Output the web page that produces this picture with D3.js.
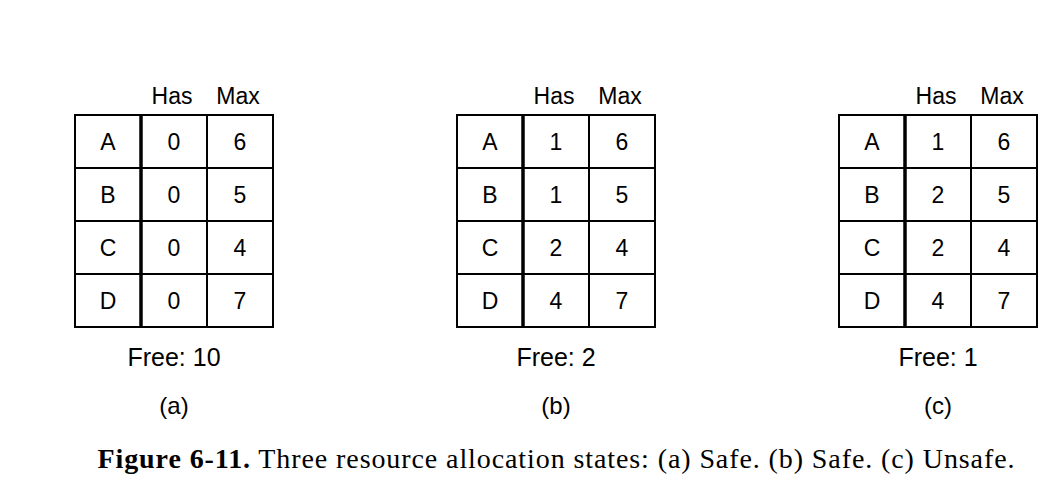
<!DOCTYPE html>
<html><head><meta charset="utf-8">
<script src="https://cdn.jsdelivr.net/npm/d3@7"></script>
<style>body{margin:0;background:#fff}</style>
</head><body><div id="chart"></div>
<script>
var processes = ["A", "B", "C", "D"];
var columns = ["Has", "Max"];
var has = [[0, 0, 0, 0], [1, 1, 2, 4], [1, 2, 2, 4]];
var max = [6, 5, 4, 7];
var free = [10, 2, 1];
var labels = ["(a)", "(b)", "(c)"];

var width = 1062, height = 490;
var svg = d3.select("#chart").append("svg")
    .attr("width", width).attr("height", height);

var cellW = 66, tableTop = 115, tableBottom = 327;
var y = d3.scaleBand().domain(processes).range([tableTop, tableBottom]);
var font = "Liberation Sans, Arial, sans-serif";

labels.forEach(function(lab, i) {
  var x0 = 75 + i * 382;
  var g = svg.append("g").attr("transform", "translate(" + x0 + ",0)");
  var x = d3.scaleBand().domain(["name"].concat(columns)).range([0, cellW * 3]);

  columns.forEach(function(c) {
    g.append("text").attr("x", x(c) + x.bandwidth() / 2 - 2).attr("y", 104)
      .attr("text-anchor", "middle").attr("font-family", font).attr("font-size", 23).text(c);
  });

  processes.forEach(function(p, j) {
    var row = [p, has[i][j], max[j]];
    x.domain().forEach(function(col, k) {
      g.append("text").attr("x", x(col) + x.bandwidth() / 2).attr("y", y(p) + y.bandwidth() / 2 + 8)
        .attr("text-anchor", "middle").attr("font-family", font).attr("font-size", 23).text(row[k]);
    });
  });

  // grid
  g.append("rect").attr("x", 0).attr("y", tableTop).attr("width", cellW * 3).attr("height", tableBottom - tableTop)
    .attr("fill", "none").attr("stroke", "#000").attr("stroke-width", 2);
  processes.slice(1).forEach(function(p) {
    g.append("line").attr("x1", 0).attr("x2", cellW * 3).attr("y1", y(p)).attr("y2", y(p))
      .attr("stroke", "#000").attr("stroke-width", 2);
  });
  g.append("line").attr("x1", x("Has")).attr("x2", x("Has")).attr("y1", tableTop).attr("y2", tableBottom)
    .attr("stroke", "#000").attr("stroke-width", 3.5);
  g.append("line").attr("x1", x("Max")).attr("x2", x("Max")).attr("y1", tableTop).attr("y2", tableBottom)
    .attr("stroke", "#000").attr("stroke-width", 2);

  g.append("text").attr("x", 99).attr("y", 366).attr("text-anchor", "middle")
    .attr("font-family", font).attr("font-size", 25).text("Free: " + free[i]);
  g.append("text").attr("x", 99).attr("y", 414).attr("text-anchor", "middle")
    .attr("font-family", font).attr("font-size", 24).text(lab);
});

var cap = svg.append("text").attr("x", 556).attr("y", 468).attr("text-anchor", "middle")
  .attr("font-family", "Liberation Serif, Times New Roman, serif").attr("font-size", 28)
  .attr("textLength", 917).attr("lengthAdjust", "spacing");
cap.append("tspan").attr("font-weight", "bold").text("Figure 6-11.");
cap.append("tspan").text("  Three resource allocation states: (a) Safe. (b) Safe. (c) Unsafe.");
</script></body></html>
